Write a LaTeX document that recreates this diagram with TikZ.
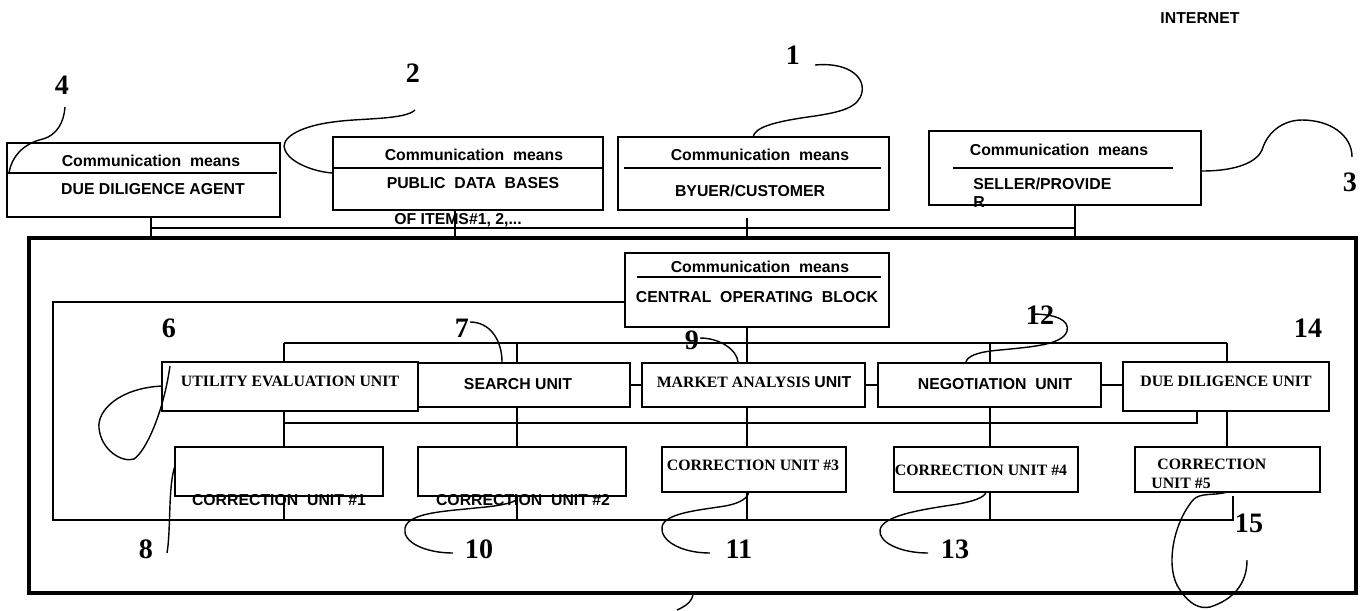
\documentclass[tikz,border=0pt]{standalone}
\usepackage{fontspec}
\setmainfont{Liberation Serif}
\setsansfont{Liberation Sans}
\newcommand{\labsf}{\sffamily\bfseries\fontsize{9}{10}\selectfont}
\newcommand{\labrm}{\rmfamily\bfseries\fontsize{9}{10}\selectfont}
\newcommand{\labnum}{\rmfamily\bfseries\fontsize{16}{18}\selectfont}
\tikzset{
  unitbox/.style={draw, line width=0.8pt, fill=white, inner sep=0pt},
  heavybox/.style={unitbox, line width=1.2pt},
  wire/.style={line width=0.7pt},
  leader/.style={line width=0.8pt},
  sftext/.style={font=\labsf, inner sep=0pt},
  rmtext/.style={font=\labrm, inner sep=0pt},
  numtext/.style={font=\labnum, inner sep=0pt}
}

\begin{document}
\begin{tikzpicture}[x=0.02cm, y=-0.02cm]
    \useasboundingbox (0,0) rectangle (1364,610);

    % Outer frame
    \draw[line width=2.3pt] (29,238) rectangle (1356,593);

    % Bus levels and columns
    \coordinate (topbus) at (0,228);
    \coordinate (busA) at (0,343);
    \coordinate (busB) at (0,423);
    \coordinate (c1) at (284,0);
    \coordinate (c2) at (517,0);
    \coordinate (c3) at (747,0);
    \coordinate (c4) at (990,0);
    \coordinate (c5) at (1227,0);
    \coordinate (c6) at (1197,0);

    % Top row of communication blocks
    \node[unitbox, minimum width=5.46cm, minimum height=1.48cm] (agent) at (143.5,180) {};
    \node[unitbox, minimum width=5.40cm, minimum height=1.46cm] (pdb) at (468,173.5) {};
    \node[unitbox, minimum width=5.42cm, minimum height=1.46cm] (buyer) at (753.5,173.5) {};
    \node[unitbox, minimum width=5.44cm, minimum height=1.48cm] (seller) at (1065,168) {};
    \draw[line width=0.8pt] (8,173) -- (277,173);
    \draw[line width=0.8pt] (333,168) -- (602,168);
    \draw[line width=0.8pt] (624,168) -- (881,168);
    \draw[line width=0.8pt] (953,168) -- (1173,168);

    \node[sftext] (agent-cm) at (151,161) {Communication~~means};
    \node[sftext] (agent-t) at (153,189) {DUE DILIGENCE AGENT};
    \node[sftext] (pdb-cm) at (474,155) {Communication~~means};
    \node[sftext] (pdb-t) at (473,183) {PUBLIC~~DATA~~BASES};
    \node[sftext, anchor=west] (pdb-t2) at (394,220) {OF ITEMS\#1, 2,...};
    \node[sftext] (buyer-cm) at (760,155) {Communication~~means};
    \node[sftext] (buyer-t) at (750,191) {BYUER/CUSTOMER};
    \node[sftext] (seller-cm) at (1059,150) {Communication~~means};
    \node[sftext, anchor=west] (seller-t) at (973,184) {SELLER/PROVIDE};
    \node[sftext, anchor=west] (seller-t2) at (973,202) {R};
    \node[sftext] (internet) at (1200,18) {INTERNET};

    % Drops to the Internet bus
    \coordinate (tbw) at (151,238);
    \coordinate (tbp) at (455,238);
    \coordinate (tbb) at (747,238);
    \coordinate (tbe) at (1075,238);
    \draw[wire] (tbw |- topbus) -- (tbe |- topbus);
    \draw[wire] (tbw) -- (tbw |- agent.south);
    \draw[wire] (tbp) -- (tbp |- pdb.south);
    \draw[wire] (tbb) -- ([yshift=-4pt]tbb |- buyer.south);
    \draw[wire] (tbe) -- (tbe |- seller.south);

    % Central operating block
    \node[unitbox, minimum width=5.28cm, minimum height=1.48cm] (central) at (757,290) {};
    \draw[line width=0.8pt] (637,277) -- (881,277);
    \node[sftext] (central-cm) at (760,267) {Communication~~means};
    \node[sftext] (central-t) at (757,297) {CENTRAL~~OPERATING~~BLOCK};

    % Inner frame
    \coordinate (ftl) at (53,302);
    \coordinate (fbl) at (53,520);
    \coordinate (fbr) at (1233,496);
    \draw[wire] (central.west |- ftl) -- (ftl) -- (fbl) -- (fbr |- fbl) -- (fbr);

    % Units
    \node[unitbox, minimum width=4.60cm, minimum height=0.88cm] (search) at (515,385) {};
    \node[heavybox, minimum width=5.12cm, minimum height=0.98cm] (utility) at (290,386.5) {};
    \node[unitbox, minimum width=4.46cm, minimum height=0.88cm] (market) at (753.5,385) {};
    \node[unitbox, minimum width=4.46cm, minimum height=0.88cm] (neg) at (989.5,385) {};
    \node[heavybox, minimum width=4.12cm, minimum height=0.98cm] (duedil) at (1226,386.5) {};

    \node[rmtext] (utility-t) at (290,381) {UTILITY EVALUATION UNIT};
    \node[sftext] (search-t) at (518,384) {SEARCH UNIT};
    \node[rmtext] (market-t) at (754,382) {MARKET ANALYSIS \textsf{UNIT}};
    \node[sftext] (neg-t) at (995,384) {NEGOTIATION~~UNIT};
    \node[rmtext] (duedil-t) at (1226,381) {DUE DILIGENCE UNIT};

    % Correction units
    \node[unitbox, minimum width=4.16cm, minimum height=0.98cm] (cu1) at (279,471.5) {};
    \node[unitbox, minimum width=4.16cm, minimum height=0.98cm] (cu2) at (522,471.5) {};
    \node[unitbox, minimum width=3.68cm, minimum height=0.90cm] (cu3) at (754,469.5) {};
    \node[unitbox, minimum width=3.68cm, minimum height=0.90cm] (cu4) at (986,469.5) {};
    \node[unitbox, minimum width=3.70cm, minimum height=0.90cm] (cu5) at (1227.5,469.5) {};

    \node[sftext] (cu1-t) at (279,500) {CORRECTION~~UNIT \#1};
    \node[sftext] (cu2-t) at (523,500) {CORRECTION~~UNIT \#2};
    \node[rmtext] (cu3-t) at (753,465) {CORRECTION UNIT \#3};
    \node[rmtext] (cu4-t) at (981,470) {CORRECTION UNIT \#4};
    \node[rmtext, anchor=west] (cu5-t) at (1157,464) {CORRECTION};
    \node[rmtext, anchor=west] (cu5-t2) at (1151,483) {UNIT \#5};

    % Upper bus of the units
    \draw[wire] (c1 |- busA) -- (c5 |- busA);
    \draw[wire] (c1 |- busA) -- (c1 |- utility.north);
    \draw[wire] (c2 |- busA) -- (c2 |- search.north);
    \draw[wire] (c3 |- central.south) -- (c3 |- market.north);
    \draw[wire] (c4 |- busA) -- (c4 |- neg.north);
    \draw[wire] (c5 |- busA) -- (c5 |- duedil.north);

    % Links between neighbouring units
    \draw[line width=1pt] (search.east) -- (market.west);
    \draw[line width=1pt] (market.east) -- (neg.west);
    \draw[line width=1pt] (neg.east) -- (neg.east -| duedil.west);

    % Lower bus, units to correction units
    \draw[wire] (c1 |- busB) -- (c6 |- busB) -- (c6 |- duedil.south);
    \foreach \c/\u/\k in {c1/utility/cu1, c2/search/cu2, c3/market/cu3, c4/neg/cu4}{
        \draw[wire] (\c |- \u.south) -- (\c |- \k.north);
        \draw[wire] (\c |- \k.south) -- (\c |- fbl);
    }
    \draw[wire] (c5 |- duedil.south) -- (c5 |- cu5.north);

    % Reference numbers
    \node[numtext] (n1) at (793,55) {1};
    \node[numtext] (n2) at (413,73) {2};
    \node[numtext] (n3) at (1350,182) {3};
    \node[numtext] (n4) at (62,85) {4};
    \node[numtext] (n6) at (169,328) {6};
    \node[numtext] (n7) at (462,328) {7};
    \node[numtext] (n9) at (692,340) {9};
    \node[numtext] (n12) at (1040,315) {12};
    \node[numtext] (n14) at (1308,328) {14};
    \node[numtext] (n8) at (146,549) {8};
    \node[numtext] (n10) at (479,549) {10};
    \node[numtext] (n11) at (739,549) {11};
    \node[numtext] (n13) at (955,549) {13};
    \node[numtext] (n15) at (1249,523) {15};

    % Leader lines
    \draw[leader] (815,65) .. controls (845,62) and (865,75) .. (862,92)
        .. controls (859,108) and (840,112) .. (815,116)
        .. controls (770,122) and (755,128) .. (753,137);
    \draw[leader] (415,110) .. controls (405,120) and (360,118) .. (333,122)
        .. controls (295,127) and (280,140) .. (285,150)
        .. controls (290,163) and (315,172) .. (333,173);
    \draw[leader] (1202,171) .. controls (1230,171) and (1255,165) .. (1262,150)
        .. controls (1268,130) and (1285,120) .. (1302,120)
        .. controls (1330,120) and (1352,135) .. (1352,157);
    \draw[leader] (65,107) .. controls (64,122) and (57,135) .. (43,139)
        .. controls (25,143) and (12,155) .. (9,173);
    \draw[leader] (162,386) .. controls (120,388) and (97,410) .. (99,428)
        .. controls (101,450) and (122,463) .. (134,459)
        .. controls (145,452) and (163,415) .. (170,366);
    \draw[leader] (470,322) .. controls (490,322) and (502,340) .. (502,362);
    \draw[leader] (700,338) .. controls (720,338) and (737,350) .. (738,362);
    \draw[leader] (1032,314) .. controls (1055,314) and (1070,320) .. (1067,331)
        .. controls (1063,345) and (1030,347) .. (1000,350)
        .. controls (975,352) and (967,357) .. (966,362);
    \draw[leader] (167,553) .. controls (171,530) and (168,485) .. (175,466);
    \draw[leader] (453,553) .. controls (425,553) and (402,542) .. (405,528)
        .. controls (408,512) and (450,511) .. (475,508)
        .. controls (500,506) and (512,503) .. (516,500);
    \draw[leader] (710,553) .. controls (680,553) and (660,540) .. (662,527)
        .. controls (664,513) and (700,510) .. (725,506)
        .. controls (742,503) and (748,497) .. (749,492);
    \draw[leader] (928,553) .. controls (900,553) and (878,542) .. (880,530)
        .. controls (882,516) and (920,510) .. (945,506)
        .. controls (975,502) and (985,497) .. (986,492);
    \draw[leader] (1227,492) .. controls (1215,496) and (1200,492) .. (1193,500)
        .. controls (1172,525) and (1165,570) .. (1180,590)
        .. controls (1190,605) and (1200,609) .. (1210,607)
        .. controls (1232,600) and (1247,585) .. (1247,560);
    \draw[leader] (693,593) .. controls (693,601) and (686,606) .. (677,610);

\end{tikzpicture}
\end{document}
